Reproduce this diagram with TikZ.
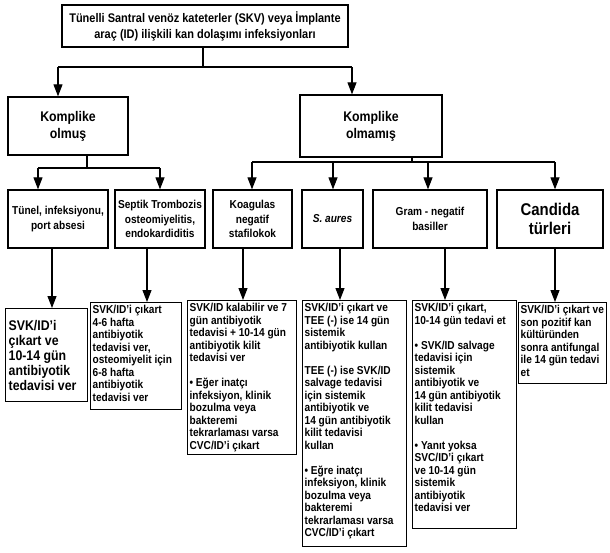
\documentclass[tikz,border=0pt]{standalone}
\usepackage{fontspec}
\setmainfont{Liberation Sans}[FakeStretch=0.88]
\usetikzlibrary{arrows.meta}
\newcommand\pb[3]{\parbox[c][#2][t]{#1}{\raggedright #3}}
\begin{document}
\begin{tikzpicture}[x=1pt,y=-1pt,
  line/.style={line width=1.1pt},
  arr/.style={line width=1.1pt,-{Triangle[width=9pt,length=12pt]}},
  box/.style={draw,line width=1.3pt,align=center},
  r2box/.style={box,minimum height=58pt,inner xsep=1pt,font=\fontsize{11.5}{14.5}\selectfont\bfseries},
  rbox/.style={draw,line width=1.3pt,inner xsep=2pt,inner ysep=3pt,anchor=north west,font=\fontsize{11.5}{12.5}\selectfont\bfseries}]
\fill[white] (0,0) rectangle (610,552);
\useasboundingbox (0,0) rectangle (610,552);

% top
\node[box,minimum width=286pt,minimum height=42pt,inner xsep=2pt,font=\fontsize{12.5}{16}\selectfont\bfseries] (top) at (205,26)
  {Tünelli Santral venöz kateterler (SKV) veya İmplante\\araç (ID) ilişkili kan dolaşımı infeksiyonları};

% level 1
\node[box,minimum width=120pt,minimum height=58pt,font=\fontsize{14}{17}\selectfont\bfseries] (k1) at (68,126) {Komplike\\olmuş};
\node[box,minimum width=142pt,minimum height=62pt,font=\fontsize{14}{17}\selectfont\bfseries] (k2) at (371,126) {Komplike\\olmamış};

% level 2
\node[r2box,minimum width=100pt] (tun) at (58,219) {Tünel, infeksiyonu,\\port absesi};
\node[r2box,minimum width=90pt] (sep) at (160,219) {Septik Trombozis\\osteomiyelitis,\\endokardiditis};
\node[r2box,minimum width=79pt] (koa) at (252.5,219) {Koagulas\\negatif\\stafilokok};
\node[r2box,minimum width=61pt] (sau) at (332.5,219) {\textit{S. aures}};
\node[r2box,minimum width=114pt] (gra) at (430,219) {Gram - negatif\\basiller};
\node[r2box,minimum width=106pt,font=\fontsize{17}{19}\selectfont\bfseries] (can) at (550,219) {Candida\\türleri};

% level 3
\node[rbox,inner xsep=3pt,font=\fontsize{14}{15}\selectfont\bfseries] (r1) at (5,308)
  {\parbox[c][87pt][c]{76pt}{\raggedright SVK/ID'i\\çıkart ve\\10-14 gün\\antibiyotik\\tedavisi ver}};
\node[rbox] (r2) at (90,302)
  {\pb{87pt}{101pt}{SVK/ID'i çıkart\\4-6 hafta\\antibiyotik\\tedavisi ver,\\osteomiyelit için\\6-8 hafta\\antibiyotik\\tedavisi ver}};
\node[rbox] (r3) at (187,300)
  {\pb{105pt}{148pt}{SVK/ID kalabilir ve 7\\gün antibiyotik\\tedavisi + 10-14 gün\\antibiyotik kilit\\tedavisi ver\\[12.5pt]• Eğer inatçı\\infeksiyon, klinik\\bozulma veya\\bakteremi\\tekrarlaması varsa\\CVC/ID'i çıkart}};
\node[rbox] (r4) at (302,300)
  {\pb{100pt}{240pt}{SVK/ID'i çıkart ve\\TEE (-) ise 14 gün\\sistemik\\antibiyotik kullan\\[12.5pt]TEE (-) ise SVK/ID\\salvage tedavisi\\için sistemik\\antibiyotik ve\\14 gün antibiyotik\\kilit tedavisi\\kullan\\[12.5pt]• Eğre inatçı\\infeksiyon, klinik\\bozulma veya\\bakteremi\\tekrarlaması varsa\\CVC/ID'i çıkart}};
\node[rbox] (r5) at (412,300)
  {\pb{100pt}{222pt}{SVK/ID'i çıkart,\\10-14 gün tedavi et\\[12.5pt]• SVK/ID salvage\\tedavisi için\\sistemik\\antibiyotik ve\\14 gün antibiyotik\\kilit tedavisi\\kullan\\[12.5pt]• Yanıt yoksa\\SVC/ID'i çıkart\\ve 10-14 gün\\sistemik\\antibiyotik\\tedavisi ver}};
\node[rbox] (r6) at (518,302)
  {\pb{84pt}{75pt}{SVK/ID'i çıkart ve\\son pozitif kan\\kültüründen\\sonra antifungal\\ile 14 gün tedavi\\et}};

% connectors top
\coordinate (j1) at (203,67);
\coordinate (hL) at (58,67);
\coordinate (hR) at (352,67);
\draw[line] (top.south -| j1) -- (j1);
\draw[line] (hL) -- (hR);
\draw[arr] (hL) -- (hL |- k1.north);
\draw[arr] (hR) -- (hR |- k2.north);

% connectors under k1
\coordinate (j2) at (87,168);
\coordinate (aL) at (38,168);
\coordinate (aR) at (160,168);
\draw[line] (k1.south -| j2) -- (j2);
\draw[line] (aL) -- (aR);
\draw[arr] (aL) -- (aL |- tun.north);
\draw[arr] (aR) -- (aR |- sep.north);

% connectors under k2
\coordinate (j3) at (412,162);
\coordinate (b1) at (252,162);
\coordinate (b2) at (333,162);
\coordinate (b3) at (428,162);
\coordinate (b4) at (555,162);
\draw[line] (k2.south -| j3) -- (j3);
\draw[line] (b1) -- (b4);
\draw[arr] (b1) -- (b1 |- koa.north);
\draw[arr] (b2) -- (b2 |- sau.north);
\draw[arr] (b3) -- (b3 |- gra.north);
\draw[arr] (b4) -- (b4 |- can.north);

% level 2 to level 3
\coordinate (v1) at (52,0);
\coordinate (v2) at (147,0);
\coordinate (v3) at (243,0);
\coordinate (v4) at (340,0);
\coordinate (v5) at (445,0);
\coordinate (v6) at (555,0);
\draw[arr] (tun.south -| v1) -- (v1 |- r1.north);
\draw[arr] (sep.south -| v2) -- (v2 |- r2.north);
\draw[arr] (koa.south -| v3) -- (v3 |- r3.north);
\draw[arr] (sau.south -| v4) -- (v4 |- r4.north);
\draw[arr] (gra.south -| v5) -- (v5 |- r5.north);
\draw[arr] (can.south -| v6) -- (v6 |- r6.north);
\end{tikzpicture}
\end{document}
